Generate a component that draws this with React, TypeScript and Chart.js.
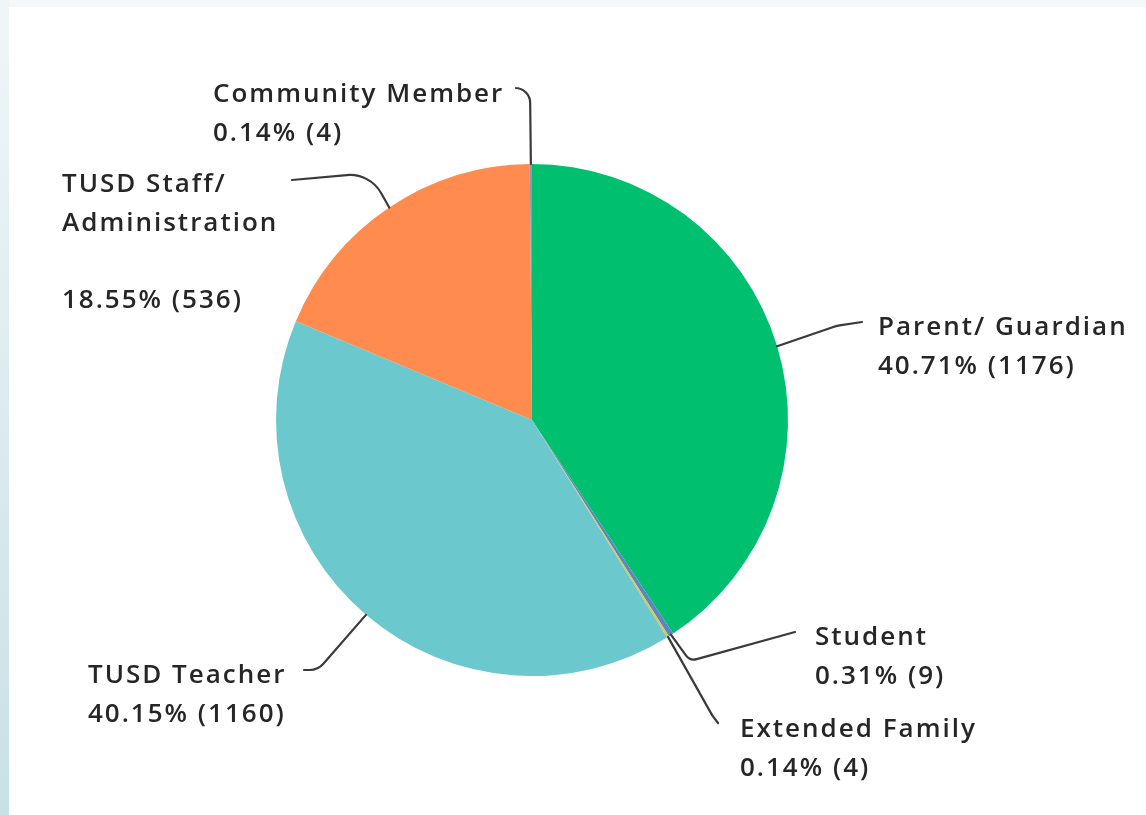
import React, { useEffect, useRef } from "react";
import { Chart, registerables } from "chart.js";

Chart.register(...registerables);

const categories = [
  "Parent/ Guardian",
  "Student",
  "Extended Family",
  "TUSD Teacher",
  "TUSD Staff/\nAdministration\n",
  "Community Member",
];
const counts = [1176, 9, 4, 1160, 536, 4];
const colors = ["#00bf6f", "#5b86c4", "#dcc84e", "#6bc8cd", "#ff8b4f", "#9c8eb5"];

// label layout (page pixels): text left/baseline, leader elbow, leader end, corner radius
const labelLayout = [
  { tx: 878, ty: 335, elbow: [836, 326], end: [862, 322], r: 40 },
  { tx: 815, ty: 645, elbow: [690, 661], end: [795, 632], r: 10 },
  { tx: 740, ty: 737, elbow: [712, 715], end: [718, 723], r: 6 },
  { tx: 88, ty: 683, elbow: [318, 670], end: [304, 670], r: 18 },
  { tx: 62, ty: 192, elbow: [370, 173], end: [292, 180], r: 36 },
  { tx: 213, ty: 102, elbow: [530, 88], end: [516, 88], r: 15 },
];

const labelsPlugin = {
  id: "pieLabels",
  afterDraw(chart: any) {
    const ctx = chart.ctx as CanvasRenderingContext2D;
    const meta = chart.getDatasetMeta(0);
    const data = chart.data.datasets[0].data as number[];
    const total = data.reduce((a, b) => a + b, 0);
    ctx.save();
    meta.data.forEach((arc: any, i: number) => {
      const p = arc.getProps(["x", "y", "startAngle", "endAngle", "outerRadius"], true);
      const mid = (p.startAngle + p.endAngle) / 2;
      const x0 = p.x + p.outerRadius * Math.cos(mid);
      const y0 = p.y + p.outerRadius * Math.sin(mid);
      const L = labelLayout[i];
      ctx.beginPath();
      ctx.strokeStyle = "#3a3a3a";
      ctx.lineWidth = 2.2;
      ctx.lineCap = "round";
      ctx.moveTo(x0, y0);
      ctx.arcTo(L.elbow[0], L.elbow[1], L.end[0], L.end[1], L.r);
      ctx.lineTo(L.end[0], L.end[1]);
      ctx.stroke();

      const pct = ((data[i] / total) * 100).toFixed(2) + "% (" + data[i] + ")";
      const lines = (chart.data.labels[i] as string).split("\n").concat([pct]);
      ctx.fillStyle = "#262626";
      ctx.font = "600 26px 'Open Sans'";
      (ctx as any).letterSpacing = "2px";
      ctx.textAlign = "left";
      ctx.textBaseline = "alphabetic";
      lines.forEach((t, k) => {
        if (t) ctx.fillText(t, L.tx, L.ty + k * 38.7);
      });
    });
    ctx.restore();
  },
};

export default function App() {
  const ref = useRef<HTMLCanvasElement>(null);
  useEffect(() => {
    const chart = new Chart(ref.current!, {
      type: "pie",
      data: {
        labels: categories,
        datasets: [
          {
            data: counts,
            backgroundColor: colors,
            borderWidth: 0,
            hoverOffset: 0,
          },
        ],
      },
      options: {
        animation: false,
        responsive: false,
        events: [],
        layout: { padding: { left: 276, right: 358, top: 164, bottom: 139 } },
        plugins: { legend: { display: false }, tooltip: { enabled: false } },
      },
      plugins: [labelsPlugin],
    });
    return () => chart.destroy();
  }, []);

  return (
    <div
      style={{
        position: "fixed",
        left: 0,
        top: 0,
        width: 1146,
        height: 815,
        background: "linear-gradient(to bottom, #f0f6f8, #c9e0e7)",
        overflow: "hidden",
      }}
    >
      <div style={{ position: "absolute", left: 9, top: 0, right: 0, height: 7, background: "#f4f8fa" }} />
      <div style={{ position: "absolute", left: 9, top: 7, right: 0, bottom: 0, background: "#ffffff" }} />
      <canvas ref={ref} width={1146} height={815} style={{ position: "absolute", left: 0, top: 0 }} />
    </div>
  );
}
